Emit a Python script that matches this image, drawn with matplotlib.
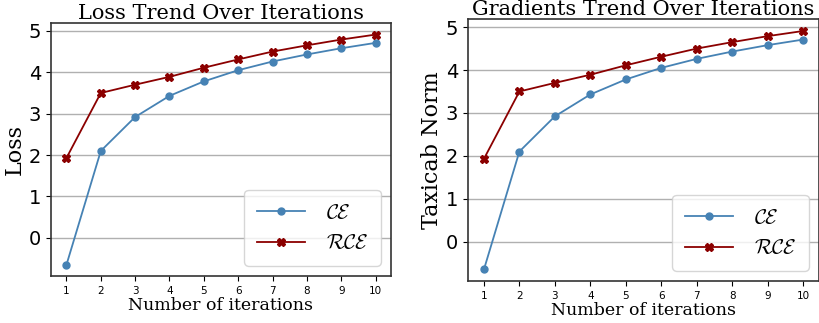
import matplotlib
matplotlib.use("Agg")
import matplotlib.pyplot as plt
import numpy as np

# dados
iters = np.arange(1, 11)
ce = [-0.65, 2.10, 2.92, 3.43, 3.78, 4.05, 4.26, 4.43, 4.58, 4.71]
rce = [1.93, 3.50, 3.70, 3.89, 4.11, 4.31, 4.50, 4.65, 4.79, 4.91]

titles = ['Loss Trend Over Iterations', 'Gradients Trend Over Iterations']
ylabels = ['Loss', 'Taxicab Norm']

plt.rcParams['mathtext.fontset'] = 'cm'

fig = plt.figure(figsize=(8.2, 3.23), dpi=100)
boxes = [[51/820, 47/323, 340/820, 253/323],
         [468/820, 42/323, 351/820, 262/323]]

for box, title, ylab in zip(boxes, titles, ylabels):
    ax = fig.add_axes(box)
    ax.plot(iters, ce, color='#4682B4', marker='o', markersize=5, lw=1.3, label=r'$\mathcal{CE}$')
    ax.plot(iters, rce, color='#8B0000', marker='X', markersize=6, lw=1.3, label=r'$\mathcal{RCE}$')
    ax.set_ylim(-0.92, 5.19)
    ax.set_yticks(range(0, 6))
    ax.set_xticks(iters)
    ax.tick_params(axis='x', labelsize=7.5)
    ax.tick_params(axis='y', labelsize=14)
    ax.grid(axis='y', color='#b0b0b0', lw=1)
    ax.set_axisbelow(True)
    for s in ax.spines.values():
        s.set_color('#333333')
        s.set_linewidth(1.2)
    ax.set_title(title, family='DejaVu Serif', fontsize=15, pad=2)
    ax.set_ylabel(ylab, family='DejaVu Serif', fontsize=16, labelpad=2)
    ax.set_xlabel('Number of iterations', family='DejaVu Serif', fontsize=12.5, labelpad=1)
    ax.legend(loc='lower right', fontsize=15, handlelength=2.3, borderpad=0.6,
              labelspacing=0.5, handletextpad=1.0)

plt.savefig('out.png', dpi=100)
